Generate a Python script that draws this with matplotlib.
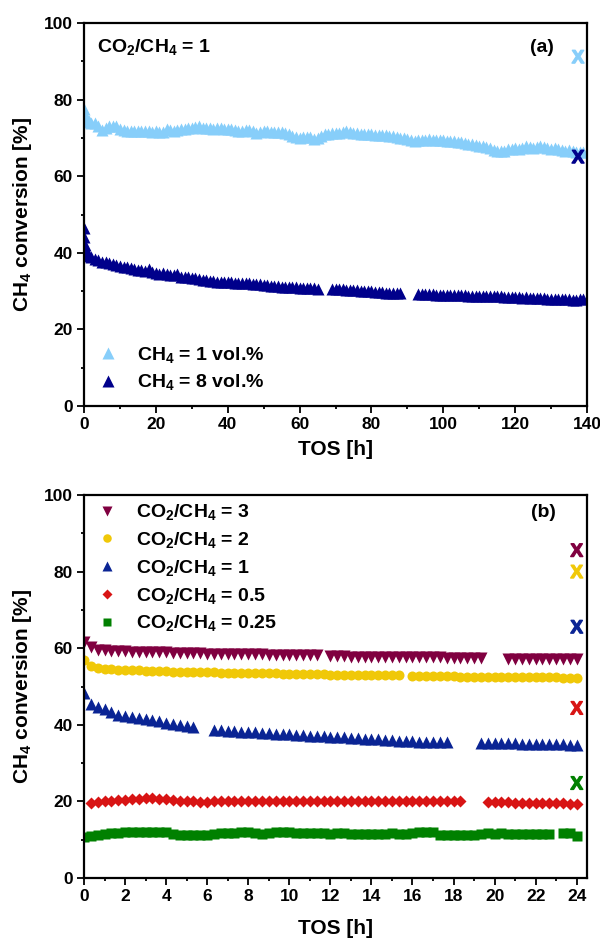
import numpy as np
import matplotlib
matplotlib.use("Agg")
import matplotlib.pyplot as plt
from matplotlib.ticker import MultipleLocator
from matplotlib.lines import Line2D

plt.rcParams['font.family'] = ['Liberation Sans', 'DejaVu Sans']
plt.rcParams['font.weight'] = 'bold'
plt.rcParams['mathtext.fontset'] = 'custom'
plt.rcParams['mathtext.rm'] = 'Liberation Sans:bold'
plt.rcParams['mathtext.bf'] = 'Liberation Sans:bold'
plt.rcParams['mathtext.it'] = 'Liberation Sans:bold'

nan = np.nan

# ---------------- Panel (a) data ----------------
tos_a = [0, 0.1, 0.25, 0.5, 0.75, 1, 1.5, 2] + list(range(3, 140))
ch4_1vol = [77.5, 76.5, 75.5, 74.6, 74.3, 74.2, 74.4, 74.0,
    73.8, 73.0, 72.0, 72.6, 73.0, 73.2, 73.0, 72.3, 72.0, 71.8,
    71.8, 71.9, 71.8, 71.7, 71.8, 71.7, 71.6, 71.8, 71.5, 71.6,
    72.3, 72.0, 71.8, 72.0, 72.2, 72.4, 72.5, 72.6, 72.8, 73.0,
    72.7, 72.6, 72.5, 72.4, 72.5, 72.6, 72.4, 72.3, 72.2, 72.0,
    71.9, 71.8, 72.0, 72.1, 71.9, 71.2, 71.5, 71.8, 71.7, 71.6,
    71.5, 71.6, 71.5, 71.3, 71.0, 70.5, 70.2, 70.1, 70.2, 70.3,
    70.2, 69.8, 70.0, 70.6, 70.9, 71.0, 71.2, 71.3, 71.4, 71.5,
    71.7, 71.5, 71.3, 71.2, 71.1, 71.0, 71.0, 70.9, 70.8, 70.8,
    70.7, 70.7, 70.6, 70.5, 70.3, 70.1, 69.9, 69.7, 69.4, 69.3,
    69.4, 69.5, 69.5, 69.6, 69.5, 69.5, 69.4, 69.4, 69.3, 69.3,
    69.2, 69.0, 68.9, 68.7, 68.5, 68.3, 68.1, 68.0, 67.9, 67.7,
    67.3, 66.9, 66.6, 66.5, 66.6, 67.0, 67.2, 67.4, 67.0, 67.3,
    67.8, 67.6, 67.3, 67.6, 67.9, 67.6, 67.3, 67.2, 67.3, 67.0,
    66.8, 66.6, 66.8, 66.5, 66.3, 66.2, 66.4]
ch4_8vol = [46.5, 44.0, 42.0, 40.6, 40.0, 39.6, 39.2, 38.9,
    38.4, 38.0, 37.7, 37.5, 37.3, 37.1, 36.9, 36.6, 36.4, 36.2,
    36.0, 35.8, 35.6, 35.4, 35.3, 35.8, 34.9, 34.6, 34.5, 34.6,
    34.4, 34.3, 34.2, 34.5, 33.8, 33.7, 33.6, 33.4, 33.3, 33.2,
    33.0, 32.9, 32.7, 32.6, 32.5, 32.5, 32.4, 32.3, 32.3, 32.2,
    32.2, 32.1, 32.0, 32.0, 31.9, 31.9, 31.8, 31.7, 31.5, 31.4,
    31.3, 31.3, 31.2, 31.2, 31.1, 31.1, 31.0, 30.9, 30.9, 30.8,
    30.8, 30.7, 30.6, nan, nan, nan, 30.6, 30.5, 30.5, 30.5,
    30.4, 30.4, 30.3, 30.2, 30.1, 30.0, 30.0, 29.9, 29.8, 29.7,
    29.7, 29.6, 29.6, 29.5, 29.5, 29.4, nan, nan, nan, nan,
    29.3, 29.3, 29.2, 29.2, 29.2, 29.1, 29.1, 29.1, 29.0, 29.0,
    28.9, 28.9, 28.9, 28.9, 28.8, 28.8, 28.8, 28.8, 28.7, 28.7,
    28.7, 28.6, 28.6, 28.6, 28.5, 28.5, 28.4, 28.4, 28.4, 28.3,
    28.5, 28.3, 28.2, 28.2, 28.1, 28.1, 28.0, 28.0, 28.0, 28.0,
    27.9, 27.9, 27.9, 27.8, 27.6, 28.0, 28.0]
# equilibrium conversions (X) for panel (a)
eq_a_tos = [137.5, 137.5]
eq_a_val = [91.2, 65.1]

# ---------------- Panel (b) data ----------------
tos_b = np.round(np.arange(73) / 3.0, 2)
ratio3 = [61.5, 60.2, 59.6, 59.4, 59.3, 59.3, 59.2, 59.1, 59.1, 59.0,
    59.0, 58.9, 58.9, 58.8, 58.8, 58.7, 58.7, 58.7, 58.6, 58.6,
    58.6, 58.5, 58.5, 58.5, 58.4, 58.4, 58.4, 58.3, 58.3, 58.3,
    58.2, 58.2, 58.2, 58.1, 58.1, nan, 57.9, 57.9, 57.9, 57.8,
    57.8, 57.8, 57.8, 57.7, 57.7, 57.7, 57.7, 57.7, 57.6, 57.6,
    57.6, 57.6, 57.6, 57.5, 57.5, 57.5, 57.5, 57.5, 57.4, nan,
    nan, nan, 57.3, 57.3, 57.3, 57.3, 57.2, 57.2, 57.2, 57.2,
    57.2, 57.1, 57.1]
ratio2 = [57.0, 55.3, 54.8, 54.6, 54.5, 54.4, 54.3, 54.2, 54.2, 54.1,
    54.1, 54.0, 54.0, 53.9, 53.9, 53.8, 53.8, 53.8, 53.7, 53.7,
    53.6, 53.6, 53.6, 53.5, 53.5, 53.5, 53.4, 53.4, 53.4, 53.3,
    53.3, 53.3, 53.2, 53.2, 53.2, 53.2, 53.1, 53.1, 53.1, 53.1,
    53.0, 53.0, 53.0, 53.0, 52.9, 52.9, 52.9, nan, 52.8, 52.8,
    52.8, 52.7, 52.7, 52.7, 52.7, 52.6, 52.6, 52.6, 52.6, 52.6,
    52.5, 52.5, 52.5, 52.5, 52.5, 52.4, 52.4, 52.4, 52.4, 52.4,
    52.3, 52.3, 52.3]
ratio1 = [48.3, 45.5, 44.6, 44.0, 43.3, 42.6, 42.3, 42.0, 41.7, 41.5,
    41.2, 40.9, 40.6, 40.3, 40.0, 39.7, 39.3, nan, nan, 38.7,
    38.6, 38.4, 38.3, 38.2, 38.1, 38.0, 37.9, 37.8, 37.7, 37.6,
    37.5, 37.4, 37.3, 37.2, 37.1, 37.0, 36.9, 36.8, 36.7, 36.6,
    36.5, 36.4, 36.3, 36.2, 36.1, 36.0, 35.9, 35.8, 35.7, 35.6,
    35.5, 35.5, 35.4, 35.4, nan, nan, nan, nan, 35.3, 35.3,
    35.3, 35.2, 35.2, 35.2, 35.1, 35.1, 35.1, 35.0, 34.9, 34.9,
    34.9, 34.8, 34.8]
ratio05 = [nan, 19.5, 19.8, 20.0, 20.2, 20.3, 20.4, 20.5, 20.6, 20.8,
    21.0, 20.7, 20.5, 20.3, 20.2, 20.1, 20.0, 19.9, 19.9, 20.0,
    20.1, 20.2, 20.2, 20.1, 20.1, 20.2, 20.1, 20.1, 20.2, 20.1,
    20.2, 20.1, 20.1, 20.2, 20.2, 20.1, 20.2, 20.1, 20.1, 20.2,
    20.1, 20.2, 20.2, 20.1, 20.1, 20.2, 20.1, 20.1, 20.2, 20.1,
    20.1, 20.2, 20.1, 20.2, 20.1, 20.0, nan, nan, nan, 19.9,
    19.9, 19.8, 19.8, 19.7, 19.7, 19.6, 19.6, 19.6, 19.5, 19.5,
    19.5, 19.4, 19.4]
ratio025 = [10.6, 11.0, 11.3, 11.5, 11.7, 11.8, 11.9, 11.9, 12.0, 12.0,
    12.0, 12.0, 12.0, 11.6, 11.3, 11.2, 11.1, 11.1, 11.1, 11.6,
    11.7, 11.8, 11.8, 11.9, 11.9, 11.8, 11.4, 11.8, 11.9, 12.0,
    11.9, 11.8, 11.7, 11.7, 11.7, 11.7, 11.6, 11.7, 11.7, 11.6,
    11.6, 11.6, 11.6, 11.6, 11.6, 11.7, 11.6, 11.6, 11.7, 12.1,
    12.1, 12.0, 11.3, 11.2, 11.2, 11.2, 11.2, 11.2, 11.5, 11.7,
    11.5, 11.8, 11.6, 11.4, 11.6, 11.5, 11.4, 11.6, 11.5, nan,
    11.7, 11.7, 11.0]
eq_b_tos = [24.0, 24.0, 24.0, 24.0, 24.0]
eq_b_val = [85.6, 80.0, 65.6, 44.4, 24.8]

labels_a = [r'CH$_\mathbf{4}$ = 1 vol.%', r'CH$_\mathbf{4}$ = 8 vol.%']
labels_b = [r'CO$_\mathbf{2}$/CH$_\mathbf{4}$ = 3', r'CO$_\mathbf{2}$/CH$_\mathbf{4}$ = 2',
            r'CO$_\mathbf{2}$/CH$_\mathbf{4}$ = 1', r'CO$_\mathbf{2}$/CH$_\mathbf{4}$ = 0.5',
            r'CO$_\mathbf{2}$/CH$_\mathbf{4}$ = 0.25']

c_light = '#87CEFA'
c_dark = '#00008B'
colors_b = ['#800040', '#F0C808', '#0A2494', '#D81414', '#008000']
markers_b = ['v', 'o', '^', 'D', 's']
msize_b = [8.0, 7.2, 8.0, 6.2, 6.8]

W, H = 600, 942
fig = plt.figure(figsize=(W / 100, H / 100), dpi=100)
ax1 = fig.add_axes([84 / W, 1 - 406 / H, 503 / W, 383 / H])
ax2 = fig.add_axes([84 / W, 1 - 878 / H, 503 / W, 383 / H])

def style(ax, xmax, xmaj, xmin, xlabelpad):
    ax.set_xlim(0, xmax)
    ax.set_ylim(0, 100)
    ax.xaxis.set_major_locator(MultipleLocator(xmaj))
    ax.xaxis.set_minor_locator(MultipleLocator(xmin))
    ax.yaxis.set_major_locator(MultipleLocator(20))
    ax.yaxis.set_minor_locator(MultipleLocator(10))
    ax.tick_params(which='both', direction='out', top=False, right=False,
                   labelsize=12.5, width=1.3, pad=3)
    ax.tick_params(which='major', length=5)
    ax.tick_params(which='minor', length=2.5)
    for s in ax.spines.values():
        s.set_linewidth(1.6)
    for lab in ax.get_xticklabels() + ax.get_yticklabels():
        lab.set_fontweight('bold')
    ax.set_xlabel('TOS [h]', fontsize=15, fontweight='bold', labelpad=xlabelpad)
    ax.set_ylabel(r'CH$_\mathbf{4}$ conversion [%]', fontsize=15, fontweight='bold', labelpad=7)

# Panel (a)
ax1.plot(tos_a, ch4_1vol, ls='none', marker='^', ms=9, color=c_light, mec='none')
ax1.plot(tos_a, ch4_8vol, ls='none', marker='^', ms=9, color=c_dark, mec='none')
ax1.scatter(eq_a_tos, eq_a_val, marker=r'$\mathbf{X}$', s=85, c=[c_light, c_dark], zorder=5)
style(ax1, 140, 20, 10, 6)
ax1.text(0.026, 0.937, r'CO$_\mathbf{2}$/CH$_\mathbf{4}$ = 1', transform=ax1.transAxes,
         fontsize=14, fontweight='bold', ha='left', va='center')
ax1.text(0.91, 0.937, '(a)', transform=ax1.transAxes, fontsize=14,
         fontweight='bold', ha='center', va='center')
h_a = [Line2D([], [], ls='none', marker='^', ms=8, color=c, mec='none') for c in (c_light, c_dark)]
ax1.legend(h_a, labels_a, loc='lower left', frameon=False,
           handlelength=1.07, handletextpad=0.96, borderaxespad=0.3, borderpad=0.4,
           labelspacing=0.4, prop={'weight': 'bold', 'size': 14})

# Panel (b)
series_b = [ratio3, ratio2, ratio1, ratio05, ratio025]
for vals, c, m, ms in zip(series_b, colors_b, markers_b, msize_b):
    ax2.plot(tos_b, vals, ls='none', marker=m, ms=ms, color=c, mec='none')
ax2.scatter(eq_b_tos, eq_b_val, marker=r'$\mathbf{X}$', s=85, c=colors_b, zorder=5)
style(ax2, 24.5, 2, 1, 10.5)
ax2.text(0.913, 0.955, '(b)', transform=ax2.transAxes, fontsize=14,
         fontweight='bold', ha='center', va='center')
h_b = [Line2D([], [], ls='none', marker=m, ms=ms * 0.85, color=c, mec='none')
       for c, m, ms in zip(colors_b, markers_b, msize_b)]
ax2.legend(h_b, labels_b, loc='upper left', bbox_to_anchor=(7 / 503, 1 - 1.5 / 383),
           frameon=False, handlelength=1.07, handletextpad=0.96, borderaxespad=0.0,
           borderpad=0.3, labelspacing=0.4, prop={'weight': 'bold', 'size': 14})

fig.savefig('out.png', dpi=100)
